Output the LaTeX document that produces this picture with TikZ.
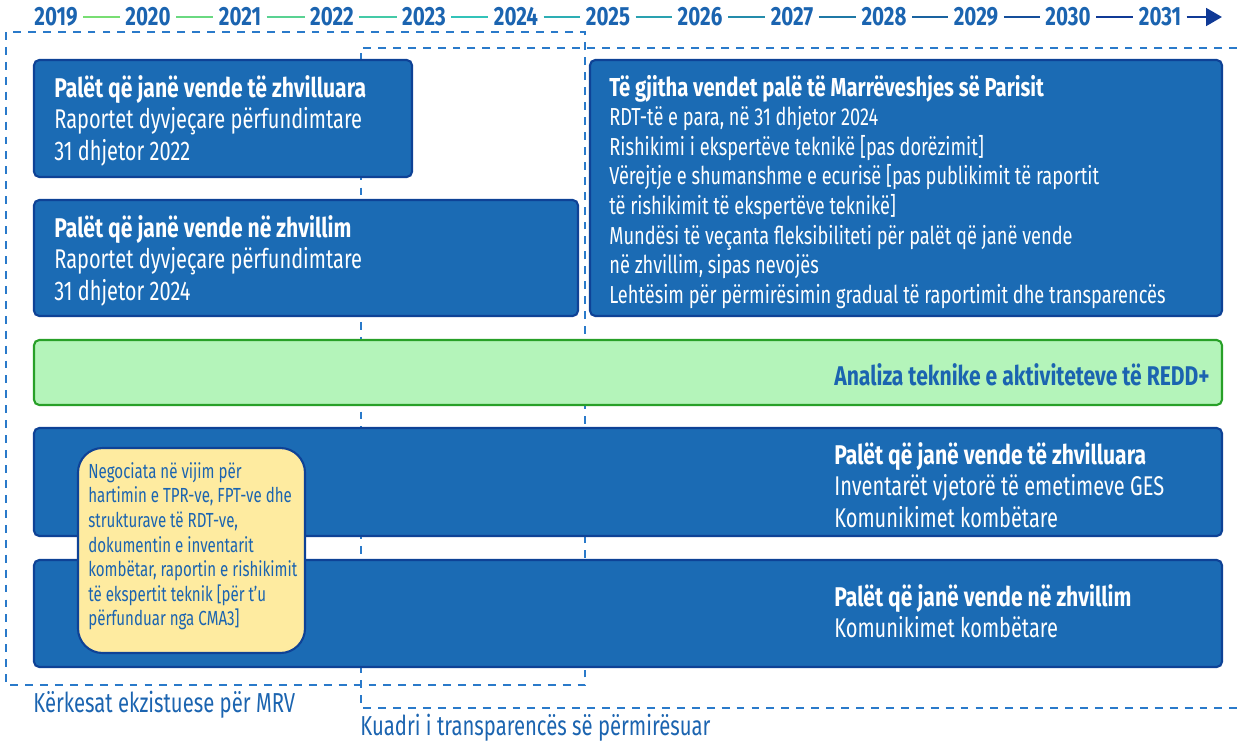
\documentclass[tikz,border=0pt]{standalone}
\usepackage{fontspec}
\setmainfont[FakeStretch=0.74, BoldFeatures={FakeStretch=0.78}]{Fira Sans}
\usetikzlibrary{arrows.meta}

\definecolor{panelblue}{RGB}{27,107,180}
\definecolor{paneledge}{RGB}{14,66,150}
\definecolor{framecol}{RGB}{42,122,202}
\definecolor{labelblue}{RGB}{27,100,176}
\definecolor{greenfill}{RGB}{180,244,186}
\definecolor{greenedge}{RGB}{40,160,40}
\definecolor{notefill}{RGB}{254,235,160}
\definecolor{tlgreen}{RGB}{120,222,115}
\definecolor{tlteal}{RGB}{50,195,185}
\definecolor{tlnavy}{RGB}{16,58,150}

\tikzset{
  panel/.style={fill=panelblue, draw=paneledge, line width=1.2pt, rounded corners=3pt},
  frame/.style={draw=framecol, line width=1.1pt, dash pattern=on 4.5pt off 4pt},
  year/.style={text=labelblue, font=\fontsize{15}{17}\selectfont\bfseries, inner xsep=3pt},
  paneltext/.style={text=white, align=left, anchor=north west, inner sep=0pt,
    font=\fontsize{15.4}{18}\selectfont},
  notetext/.style={text=labelblue, align=left, anchor=north west, inner sep=0pt,
    font=\fontsize{11.6}{14}\selectfont},
  framelabel/.style={text=labelblue, anchor=west, inner sep=0pt,
    font=\fontsize{15.6}{18}\selectfont}
}

\begin{document}
\begin{tikzpicture}[x=0.02cm, y=-0.02cm]
\useasboundingbox (0,0) rectangle (1237,744);

% timeline
\foreach \yr [count=\i from 0] in {2019,...,2031}
    \node[year] (y\yr) at ({56+92*\i},17) {\yr};
\foreach \a/\b/\c in {2019/2020/tlgreen, 2020/2021/tlgreen!80!tlteal,
    2021/2022/tlgreen!55!tlteal, 2022/2023/tlgreen!25!tlteal, 2023/2024/tlteal,
    2024/2025/tlteal!85!tlnavy, 2025/2026/tlteal!75!tlnavy, 2026/2027/tlteal!60!tlnavy,
    2027/2028/tlteal!45!tlnavy, 2028/2029/tlteal!30!tlnavy, 2029/2030/tlteal!15!tlnavy,
    2030/2031/tlnavy}
{
    \draw[line width=1.4pt, draw=\c] (y\a.east) -- (y\b.west);
}
\coordinate (tlend) at (1222,17);
\draw[-{Triangle[length=9pt,width=10pt]}, line width=1.5pt, tlnavy] (y2031.east) -- (tlend);

% dashed frames
\draw[frame] (6,32) rectangle (585,685);
\draw[frame] (1237,48) -- (361,48) -- (361,708) -- (1237,708);
\node[framelabel] (oldmrv) at (33,705) {Kërkesat ekzistuese për MRV};
\node[framelabel] (etf) at (360,728) {Kuadri i transparencës së përmirësuar};

% panels
\filldraw[panel] (34,60) rectangle (412,177);
\filldraw[panel] (34,200) rectangle (578,316);
\filldraw[panel] (590,60) rectangle (1222,316);
\filldraw[panel, fill=greenfill, draw=greenedge] (34,340) rectangle (1222,405);
\filldraw[panel] (34,428) rectangle (1222,536);
\filldraw[panel] (34,560) rectangle (1222,667);

\node[paneltext] (devA) at (54,75)
    {\textbf{Palët që janë vende të zhvilluara}\\Raportet dyvjeçare përfundimtare\\31 dhjetor 2022};
\node[paneltext] (devgA) at (54,215)
    {\textbf{Palët që janë vende në zhvillim}\\Raportet dyvjeçare përfundimtare\\31 dhjetor 2024};
\node[paneltext, font=\fontsize{14}{16.8}\selectfont] (allpa) at (609,75)
    {{\fontsize{14.8}{16.8}\selectfont\bfseries Të gjitha vendet palë të Marrëveshjes së Parisit}\\
     RDT-të e para, në 31 dhjetor 2024\\
     Rishikimi i ekspertëve teknikë [pas dorëzimit]\\
     Vërejtje e shumanshme e ecurisë [pas publikimit të raportit\\
     të rishikimit të ekspertëve teknikë]\\
     Mundësi të veçanta fleksibiliteti për palët që janë vende\\
     në zhvillim, sipas nevojës\\
     Lehtësim për përmirësimin gradual të raportimit dhe transparencës};
\node[paneltext, anchor=east, text=labelblue, font=\fontsize{15.4}{18}\selectfont\bfseries] (redd)
    at (1210,375) {Analiza teknike e aktiviteteve të REDD+};
\node[paneltext] (devB) at (834,442)
    {\textbf{Palët që janë vende të zhvilluara}\\Inventarët vjetorë të emetimeve GES\\Komunikimet kombëtare};
\node[paneltext] (devgB) at (834,584)
    {\textbf{Palët që janë vende në zhvillim}\\Komunikimet kombëtare};

% note
\filldraw[fill=notefill, draw=paneledge, line width=1.2pt, rounded corners=14pt] (78,448) rectangle (305,653);
\node[notetext] (talks) at (88,462)
    {Negociata në vijim për\\hartimin e TPR-ve, FPT-ve dhe\\strukturave të RDT-ve,\\dokumentin e inventarit\\
     kombëtar, raportin e rishikimit\\të ekspertit teknik [për t'u\\përfunduar nga CMA3]};

\end{tikzpicture}
\end{document}
